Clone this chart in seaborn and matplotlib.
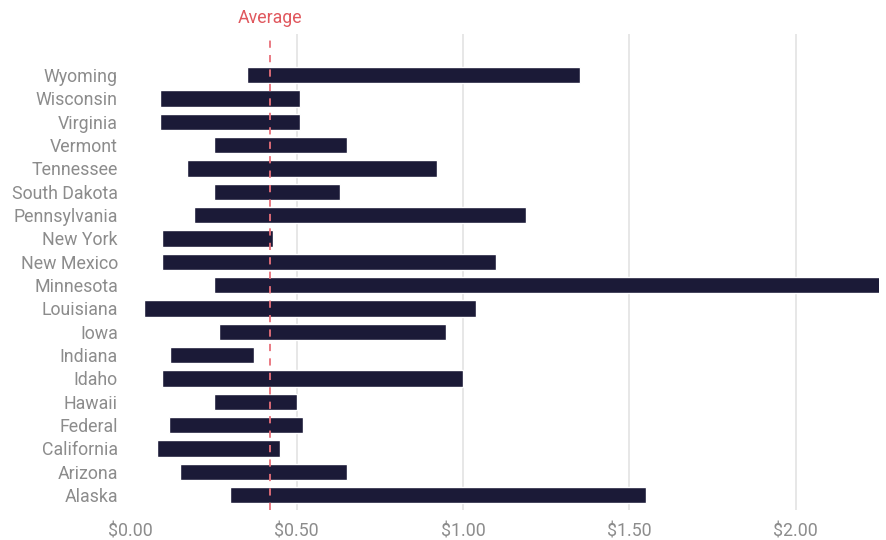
import matplotlib
matplotlib.use("Agg")
import matplotlib.pyplot as plt
import seaborn as sns
import pandas as pd

states = ["Wyoming", "Wisconsin", "Virginia", "Vermont", "Tennessee", "South Dakota",
          "Pennsylvania", "New York", "New Mexico", "Minnesota", "Louisiana", "Iowa",
          "Indiana", "Idaho", "Hawaii", "Federal", "California", "Arizona", "Alaska"]
low = [0.35, 0.09, 0.09, 0.25, 0.17, 0.25, 0.19, 0.095, 0.095, 0.25, 0.04, 0.265,
       0.12, 0.095, 0.25, 0.115, 0.08, 0.15, 0.30]
high = [1.35, 0.51, 0.51, 0.65, 0.92, 0.63, 1.19, 0.43, 1.10, 2.30, 1.04, 0.95,
        0.37, 1.00, 0.50, 0.52, 0.45, 0.65, 1.55]
average = 0.42
xticks = [0.0, 0.5, 1.0, 1.5, 2.0]
xticklabels = ["$0.00", "$0.50", "$1.00", "$1.50", "$2.00"]

df = pd.DataFrame({"state": states, "low": low, "high": high})

sns.set_theme(style="white")
plt.rcParams["font.family"] = ["Roboto", "DejaVu Sans"]

fig = plt.figure(figsize=(8.86, 5.4), dpi=100)
ax = fig.add_axes([0.1472, 0.0556, 0.8449, 0.8814])

sns.barplot(data=df, x="high", y="state", orient="y", color="#1b1a37",
            saturation=1, width=0.7, ax=ax, zorder=3)
for patch, lo, hi in zip(ax.patches, df["low"], df["high"]):
    patch.set_x(lo)
    patch.set_width(hi - lo)

ax.set_xlim(0, 2.25)
ax.set_ylim(len(states) - 1 + 0.64, -1.76)
ax.set_xticks(xticks)
ax.set_xticklabels(xticklabels)
ax.grid(axis="x", color="#e3e3e3", linewidth=1.2, zorder=0)
ax.grid(axis="y", visible=False)
ax.xaxis.get_gridlines()[0].set_visible(False)
for s in ax.spines.values():
    s.set_visible(False)
ax.tick_params(axis="both", length=0, labelsize=12.8, labelcolor="#8c8c8c")
ax.tick_params(axis="y", pad=9)
ax.tick_params(axis="x", pad=9)
ax.set_xlabel("")
ax.set_ylabel("")

ax.axvline(average, ymax=0.995, color="#e8707a", linestyle=(0, (4, 4)), linewidth=1.3, zorder=4)
ax.text(average, 1.0145, "Average", transform=ax.get_xaxis_transform(),
        ha="center", va="bottom", color="#e0585e", fontsize=12.8, clip_on=False)

fig.savefig("out.png", dpi=100)
